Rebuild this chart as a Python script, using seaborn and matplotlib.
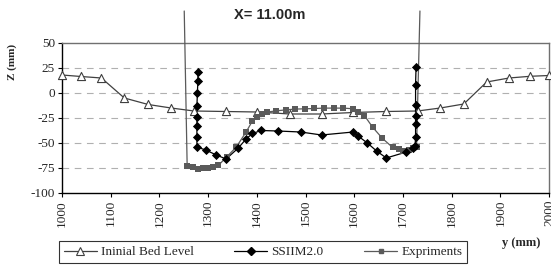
import matplotlib
matplotlib.use("Agg")
import matplotlib.pyplot as plt
import seaborn as sns
import numpy as np
import pandas as pd
from matplotlib.lines import Line2D

# ---- data ----
bed_x = [1000, 1039, 1081, 1128, 1177, 1224, 1271, 1336, 1401, 1468, 1533, 1598, 1665, 1730, 1777, 1825, 1872, 1918, 1961, 2000]
bed_y = [18, 16.5, 15, -5, -11.5, -15, -18, -18.5, -19, -21, -21, -19.5, -18.5, -18, -15, -11, 11, 15, 16.7, 17.5]

ssiim_x = [1279, 1279, 1278, 1277, 1277, 1277, 1277, 1277, 1295, 1317, 1337, 1362, 1378, 1391, 1409,
           1443, 1490, 1533, 1598, 1608, 1627, 1646, 1666, 1707, 1721, 1725, 1726, 1726, 1726, 1726, 1726, 1727]
ssiim_y = [21, 12, 0, -13.5, -24, -33, -44, -54, -57, -62, -66, -55, -46, -40.5, -37.5,
           -38, -39, -42, -39, -43, -50, -58, -65, -59, -55.5, -53, -44, -31, -23, -12, 8.4, 25.8]

exp_x = [1251, 1257, 1268, 1279, 1289, 1300, 1311, 1321, 1338, 1358, 1378, 1391, 1400, 1411, 1420, 1439, 1459,
         1478, 1499, 1518, 1539, 1559, 1578, 1598, 1608, 1621, 1638, 1658, 1679, 1691, 1701, 1713, 1721, 1728, 1735]
exp_y = [82, -72.8, -74.5, -75.8, -75.5, -74.8, -74.2, -72.4, -64, -54, -39, -28, -24.2, -21, -19.2, -17.9, -16.9,
         -16.1, -15.8, -15.5, -15.1, -15.1, -15.1, -15.8, -18.6, -22.6, -34.3, -45.4, -54.5, -56.5, -58.2, -57.5, -55.5, -54.5, 82]

title = "X= 11.00m"
x_ticks = list(range(1000, 2001, 100))
y_ticks = list(range(-100, 51, 25))
labels = ["Ininial Bed Level", "SSIIM2.0", "Expriments"]

# ---- style ----
sns.set_theme(style="white")
plt.rcParams['font.family'] = ['Liberation Serif', 'DejaVu Serif']

fig = plt.figure(figsize=(5.51, 2.65), dpi=100)
ax = fig.add_axes([62/551, 1-193/265, (549-62)/551, 150/265])

bed = pd.DataFrame({"x": bed_x, "y": bed_y})
ss = pd.DataFrame({"x": ssiim_x, "y": ssiim_y})
ex = pd.DataFrame({"x": exp_x, "y": exp_y})

c_bed = "#404040"
c_ss = "#000000"
c_ex = "#5a5a5a"

# lines
sns.lineplot(data=bed, x="x", y="y", sort=False, estimator=None, ax=ax, color=c_bed, lw=0.9, zorder=3)
sns.lineplot(data=ex, x="x", y="y", sort=False, estimator=None, ax=ax, color=c_ex, lw=0.9, zorder=4, clip_on=False)
sns.lineplot(data=ss, x="x", y="y", sort=False, estimator=None, ax=ax, color=c_ss, lw=0.9, zorder=5)

# markers
sns.scatterplot(data=bed, x="x", y="y", ax=ax, marker="^", s=34, color="white", edgecolor=c_bed, linewidth=0.8, zorder=6, clip_on=False)
sns.scatterplot(data=ex.iloc[1:-1], x="x", y="y", ax=ax, marker="s", s=14, color=c_ex, edgecolor=c_ex, linewidth=0, zorder=7)
sns.scatterplot(data=ss, x="x", y="y", ax=ax, marker="D", s=22, color=c_ss, edgecolor=c_ss, linewidth=0, zorder=8)

ax.set_xlim(1000, 2000)
ax.set_ylim(-100, 50)
ax.set_xticks(x_ticks)
ax.set_yticks(y_ticks)
ax.set_xticklabels([str(v) for v in x_ticks], rotation=90, fontsize=9.5)
ax.set_yticklabels([str(v) for v in y_ticks], fontsize=9.5)
ax.set_xlabel("")
ax.set_ylabel("")
ax.tick_params(axis="both", direction="out", length=3, width=0.8, color="black", pad=2, bottom=True, left=True)

for v in [25, 0, -25, -50, -75]:
    ax.axhline(v, color="#b0b0b0", lw=0.8, ls=(0, (6, 5)), zorder=1)

for s in ["left", "bottom"]:
    ax.spines[s].set_color("black")
    ax.spines[s].set_linewidth(1.0)
for s in ["top", "right"]:
    ax.spines[s].set_color("#707070")
    ax.spines[s].set_linewidth(1.0)

fig.text(0.49, 1-15/265, title, ha="center", va="center", fontsize=10.5, fontweight="bold",
         family=["Liberation Sans", "DejaVu Sans"])
fig.text(0.022, 1-62/265, "Z (mm)", rotation=90, ha="center", va="center", fontsize=8, fontweight="bold")
fig.text(521/551, 1-243/265, "y (mm)", ha="center", va="center", fontsize=9, fontweight="bold")

handles = [
    Line2D([0], [0], color=c_bed, lw=0.9, marker="^", markersize=5.5, markerfacecolor="white", markeredgecolor=c_bed, markeredgewidth=0.8),
    Line2D([0], [0], color=c_ss, lw=0.9, marker="D", markersize=4.5, markerfacecolor=c_ss, markeredgecolor=c_ss),
    Line2D([0], [0], color=c_ex, lw=0.9, marker="s", markersize=3, markerfacecolor=c_ex, markeredgecolor=c_ex),
]
leg = fig.legend(handles, labels, loc="center", bbox_to_anchor=(263/551, 1-252/265), ncol=3, fontsize=9.5,
                 frameon=True, fancybox=False, edgecolor="black", handlelength=2.5, handletextpad=0.3,
                 columnspacing=3.1, borderpad=0.35, numpoints=1, borderaxespad=0)
leg.get_frame().set_linewidth(0.8)

fig.savefig("out.png", dpi=100)
